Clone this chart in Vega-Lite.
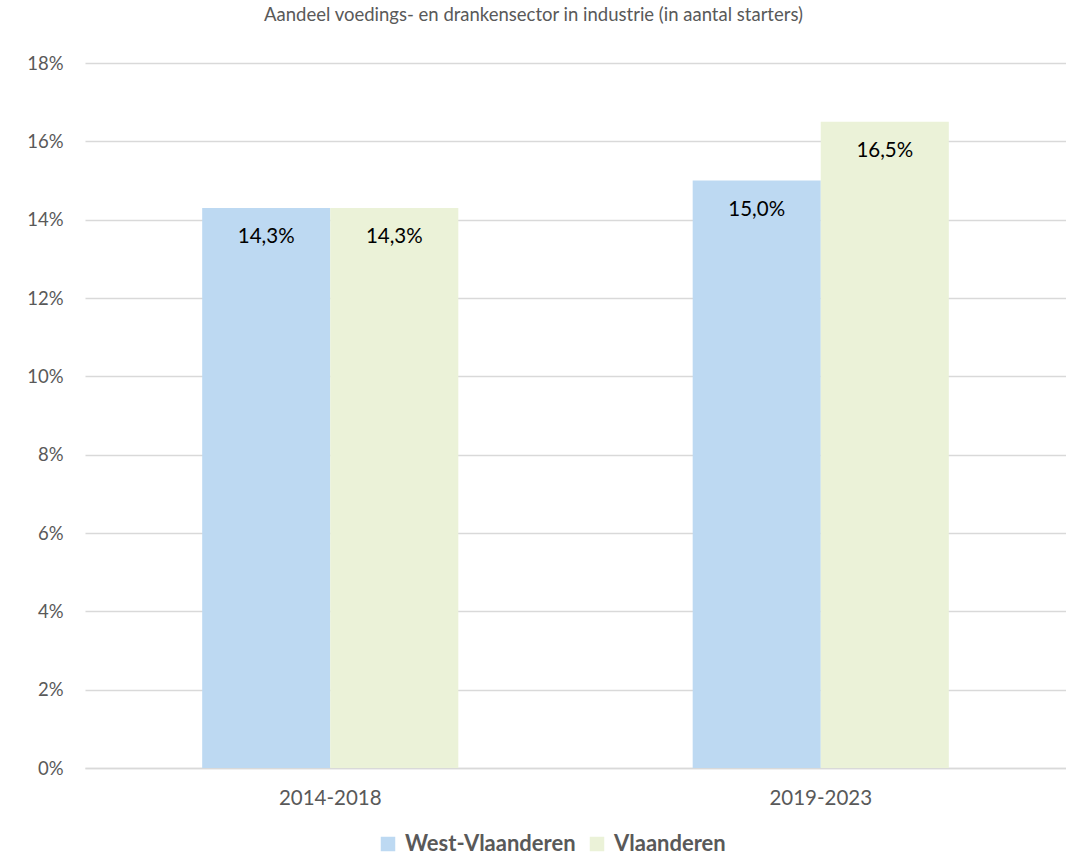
{
  "$schema": "https://vega.github.io/schema/vega-lite/v6.json",
  "autosize": "none",
  "padding": {"left": 85, "top": 63, "right": 0, "bottom": 93},
  "width": 981,
  "height": 705,
  "title": {
    "text": "Aandeel voedings- en drankensector in industrie (in aantal starters)",
    "fontSize": 18.5,
    "font": "Lato",
    "fontWeight": "normal",
    "color": "#595959",
    "anchor": "middle",
    "dx": -42,
    "offset": 30
  },
  "data": {
    "values": [
      {"periode": "2014-2018", "regio": "West-Vlaanderen", "aandeel": 0.143},
      {"periode": "2014-2018", "regio": "Vlaanderen", "aandeel": 0.143},
      {"periode": "2019-2023", "regio": "West-Vlaanderen", "aandeel": 0.150},
      {"periode": "2019-2023", "regio": "Vlaanderen", "aandeel": 0.165}
    ]
  },
  "encoding": {
    "x": {
      "field": "periode",
      "type": "nominal",
      "scale": {"paddingInner": 0, "paddingOuter": 0},
      "axis": {
        "title": null,
        "labelAngle": 0,
        "ticks": false,
        "domainColor": "#D9D9D9",
        "domainWidth": 1.5,
        "labelFontSize": 20.5,
        "labelFont": "Lato",
        "labelColor": "#595959",
        "labelPadding": 20
      }
    },
    "xOffset": {
      "field": "regio",
      "type": "nominal",
      "sort": ["West-Vlaanderen", "Vlaanderen"],
      "scale": {"paddingInner": 0, "paddingOuter": 0.915}
    },
    "y": {
      "field": "aandeel",
      "type": "quantitative",
      "scale": {"domain": [0, 0.18]},
      "axis": {
        "title": null,
        "format": ".0%",
        "values": [0, 0.02, 0.04, 0.06, 0.08, 0.1, 0.12, 0.14, 0.16, 0.18],
        "domain": false,
        "ticks": false,
        "gridColor": "#D9D9D9",
        "gridWidth": 1.5,
        "labelFontSize": 18.5,
        "labelFont": "Lato",
        "labelColor": "#595959",
        "labelPadding": 22
      }
    }
  },
  "layer": [
    {
      "mark": {"type": "bar"},
      "encoding": {
        "color": {
          "field": "regio",
          "type": "nominal",
          "sort": ["West-Vlaanderen", "Vlaanderen"],
          "scale": {"domain": ["West-Vlaanderen", "Vlaanderen"], "range": ["#BDD9F2", "#EBF2D8"]},
          "legend": {
            "title": null,
            "orient": "none",
            "direction": "horizontal",
            "legendX": 292,
            "legendY": 770,
            "symbolType": "square",
            "symbolSize": 210,
            "symbolStrokeWidth": 0,
            "symbolOpacity": 1,
            "labelFont": "Lato",
            "labelFontSize": 22,
            "labelFontWeight": "bold",
            "labelColor": "#595959",
            "labelLimit": 400,
            "columnPadding": 10,
            "labelOffset": 6
          }
        }
      }
    },
    {
      "mark": {"type": "text", "fontSize": 20.5, "font": "Lato", "color": "#000000", "baseline": "middle", "dy": 29},
      "encoding": {
        "text": {"field": "aandeel", "type": "quantitative", "format": ".1%"}
      }
    }
  ],
  "config": {
    "view": {"stroke": null},
    "locale": {"number": {"decimal": ",", "thousands": ".", "grouping": [3], "currency": ["€", ""]}}
  }
}
